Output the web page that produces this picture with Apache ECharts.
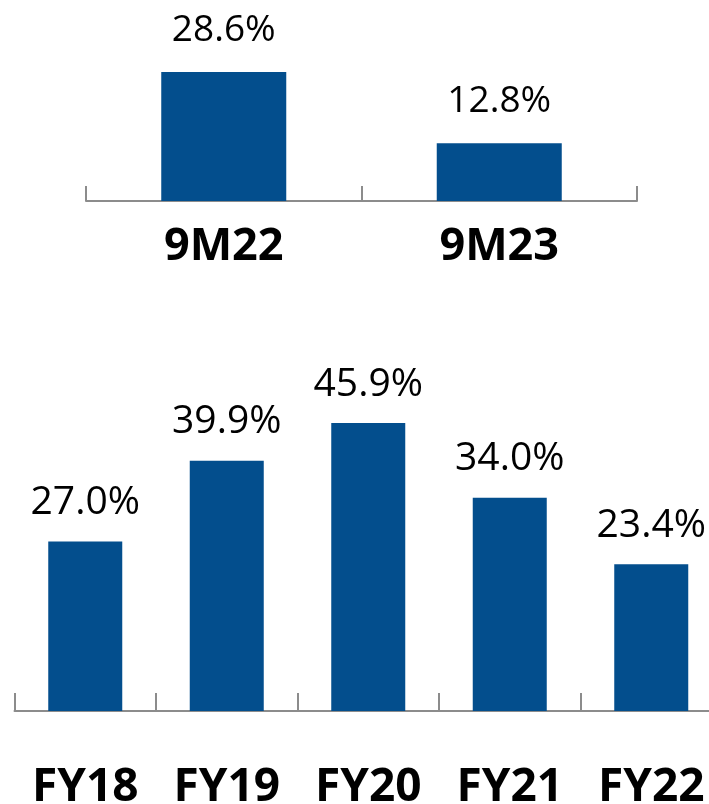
<!DOCTYPE html>
<html>
<head>
<meta charset="utf-8">
<script src="https://cdn.jsdelivr.net/npm/echarts@6/dist/echarts.min.js"></script>
<style>html,body{margin:0;padding:0;background:#fff;}#c{width:709px;height:804px;}</style>
</head>
<body>
<div id="c"></div>
<script>
const topCategories = ['9M22', '9M23'];
const topValues = [28.6, 12.8];
const bottomCategories = ['FY18', 'FY19', 'FY20', 'FY21', 'FY22'];
const bottomValues = [27.0, 39.9, 45.9, 34.0, 23.4];

const barColor = '#034E8D';
const axisColor = '#8C8C8C';
const fontFamily = '"Open Sans", "Noto Sans", sans-serif';

const chart = echarts.init(document.getElementById('c'), null, {renderer: 'canvas'});

function xAxis(idx, data, margin) {
  return {
    type: 'category', gridIndex: idx, data: data,
    axisLine: {show: true, lineStyle: {color: axisColor, width: 2}},
    axisTick: {show: true, inside: true, length: idx === 0 ? 15 : 18, lineStyle: {color: axisColor, width: 2}},
    axisLabel: {color: '#000', fontFamily: fontFamily, fontWeight: 'bold', fontSize: idx === 0 ? 45 : 46, margin: margin},
    splitLine: {show: false}
  };
}
function yAxis(idx, max) {
  return {type: 'value', gridIndex: idx, min: 0, max: max, show: false, splitLine: {show: false}};
}
function series(idx, data, width, dist, fs) {
  return {
    type: 'bar', xAxisIndex: idx, yAxisIndex: idx, data: data, barWidth: width,
    itemStyle: {color: barColor},
    label: {show: true, position: 'top', distance: dist, color: '#000', fontFamily: fontFamily, fontSize: fs,
      formatter: p => p.value.toFixed(1) + '%'},
    animation: false
  };
}

chart.setOption({
  animation: false,
  grid: [
    {left: 86, width: 551, top: 201 - 180.4, height: 180.4, containLabel: false, outerBoundsMode: 'none'},
    {left: 14.5, width: 707.5, top: 711 - 376.5, height: 376.5, containLabel: false, outerBoundsMode: 'none'}
  ],
  xAxis: [xAxis(0, topCategories, 24), xAxis(1, bottomCategories, 54)],
  yAxis: [yAxis(0, 40), yAxis(1, 60)],
  series: [series(0, topValues, 125, 23.5, 37), series(1, bottomValues, 74, 19, 39)]
});
</script>
</body>
</html>
